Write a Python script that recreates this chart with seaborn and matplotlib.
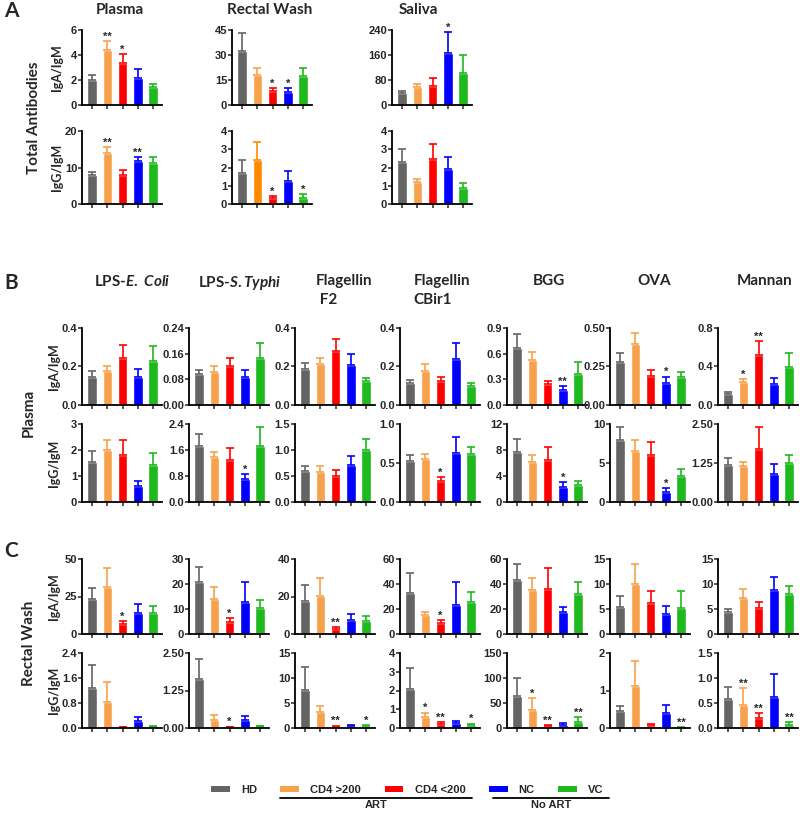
# Antibody ratio bar panels (A: total antibodies, B: plasma antigen-specific, C: rectal wash antigen-specific).

import seaborn as sns
import pandas as pd
import numpy as np
import matplotlib.pyplot as plt
from matplotlib.patches import Patch
from matplotlib.lines import Line2D

sns.set_theme(style="ticks")
plt.rcParams['font.family'] = ['Liberation Sans', 'DejaVu Sans']
plt.rcParams['font.weight'] = 'bold'
plt.rcParams['mathtext.fontset'] = 'custom'
plt.rcParams['mathtext.rm'] = 'Lato:bold'
plt.rcParams['mathtext.it'] = 'Lato:bold:italic'
plt.rcParams['mathtext.bf'] = 'Lato:bold'

# Groups and their colours.
groups = ["HD", "CD4 >200", "CD4 <200", "NC", "VC"]
colors = ["#646464", "#F8A14C", "#FF0000", "#0000FF", "#1DB91D"]

# Panel A - total antibodies, one entry per sample type.
a_sources = ["Plasma", "Rectal Wash", "Saliva"]
a_iga_mean = [[2.0, 4.4, 3.4, 2.2, 1.45], [32.5, 18.0, 8.2, 7.8, 17.5], [38, 57, 60, 168, 103]]
a_iga_sem = [[0.4, 0.7, 0.65, 0.7, 0.2], [10.5, 4.5, 1.8, 2.2, 4.5], [7, 11, 28, 65, 57]]
a_iga_stars = [["", "**", "*", "", ""], ["", "", "*", "*", ""], ["", "", "", "*", ""]]
a_iga_ymax = [6, 45, 240]
a_iga_step = [2, 15, 80]
a_igg_mean = [[8.0, 14.0, 8.0, 11.9, 11.1], [1.72, 2.42, 0.35, 1.25, 0.35], [2.3, 1.2, 2.48, 1.93, 0.88]]
a_igg_sem = [[0.7, 1.5, 1.2, 1.0, 1.9], [0.7, 1.0, 0.1, 0.55, 0.2], [0.7, 0.18, 0.82, 0.62, 0.27]]
a_igg_stars = [["", "**", "", "**", ""], ["", "", "*", "", "*"], ["", "", "", "", ""]]
a_igg_ymax = [20, 4, 4]
a_igg_step = [10, 1, 1]

# Panels B and C - antigen specific antibodies.
antigens = ["LPS-$\\mathit{E.\\ Coli}$", "LPS-$\\mathit{S.Typhi}$", "Flagellin\n F2", "Flagellin\nCBir1",
            "BGG", "OVA", "Mannan"]

b_iga_mean = [[0.145, 0.175, 0.245, 0.145, 0.228], [0.097, 0.103, 0.123, 0.087, 0.147],
              [0.185, 0.212, 0.28, 0.21, 0.125], [0.113, 0.178, 0.125, 0.238, 0.1],
              [0.67, 0.53, 0.25, 0.175, 0.36], [0.28, 0.395, 0.19, 0.145, 0.18],
              [0.11, 0.235, 0.515, 0.22, 0.395]]
b_iga_sem = [[0.03, 0.03, 0.065, 0.04, 0.077], [0.013, 0.017, 0.024, 0.021, 0.045],
             [0.033, 0.031, 0.065, 0.055, 0.015], [0.019, 0.035, 0.022, 0.084, 0.013],
             [0.16, 0.085, 0.035, 0.05, 0.14], [0.055, 0.07, 0.035, 0.04, 0.035],
             [0.02, 0.03, 0.15, 0.06, 0.15]]
b_iga_stars = [["", "", "", "", ""], ["", "", "", "", ""], ["", "", "", "", ""], ["", "", "", "", ""],
               ["", "", "", "**", ""], ["", "", "", "*", ""], ["", "*", "**", "", ""]]
b_iga_ymax = [0.4, 0.24, 0.4, 0.4, 0.9, 0.5, 0.8]
b_iga_step = [0.2, 0.08, 0.2, 0.2, 0.3, 0.25, 0.4]

b_igg_mean = [[1.55, 2.0, 1.8, 0.62, 1.42], [1.72, 1.38, 1.3, 0.7, 1.72], [0.6, 0.58, 0.5, 0.72, 1.0],
              [0.52, 0.55, 0.27, 0.63, 0.62], [7.7, 6.2, 6.4, 2.3, 2.6], [8.0, 6.6, 6.0, 1.3, 3.3],
              [1.2, 1.15, 1.7, 0.9, 1.25]]
b_igg_sem = [[0.4, 0.4, 0.6, 0.18, 0.48], [0.38, 0.17, 0.35, 0.15, 0.58], [0.1, 0.12, 0.12, 0.16, 0.22],
             [0.08, 0.07, 0.05, 0.2, 0.08], [2.0, 1.1, 2.1, 0.8, 0.6], [1.6, 1.3, 1.7, 0.5, 0.9],
             [0.2, 0.12, 0.7, 0.32, 0.25]]
b_igg_stars = [["", "", "", "", ""], ["", "", "", "*", ""], ["", "", "", "", ""], ["", "", "*", "", ""],
               ["", "", "", "*", ""], ["", "", "", "*", ""], ["", "", "", "", ""]]
b_igg_ymax = [3, 2.4, 1.5, 1.0, 12, 10, 2.5]
b_igg_step = [1, 0.8, 0.5, 0.5, 4, 5, 1.25]

c_iga_mean = [[23.5, 31.5, 6.5, 14, 14], [21, 14.2, 4.8, 12.7, 10.5], [17.7, 20.5, 2.8, 7.5, 7.0],
              [32.7, 15, 8.8, 23, 25.5], [43.5, 35.5, 36, 17.5, 32], [5.5, 10, 6.2, 4.1, 5.2],
              [4.5, 7.2, 5.2, 8.9, 8.0]]
c_iga_sem = [[7, 12.5, 2, 6, 5], [6, 4.8, 1.5, 8, 3.2], [8.3, 9.5, 1.0, 3.2, 2.5], [16.3, 3, 2.2, 19, 8.5],
             [12.5, 9, 17, 4.5, 9.5], [2.1, 4, 2.4, 1.6, 3.4], [0.6, 1.9, 1.3, 2.6, 1.7]]
c_iga_stars = [["", "", "*", "", ""], ["", "", "*", "", ""], ["", "", "**", "", ""], ["", "", "*", "", ""],
               ["", "", "", "", ""], ["", "", "", "", ""], ["", "", "", "", ""]]
c_iga_ymax = [50, 30, 40, 60, 60, 15, 15]
c_iga_step = [25, 10, 20, 20, 20, 5, 5]

c_igg_mean = [[1.28, 0.83, 0.03, 0.24, 0.04], [1.65, 0.27, 0.03, 0.27, 0.06], [7.7, 3.2, 0.3, 0.5, 0.3],
              [2.08, 0.6, 0.2, 0.28, 0.15], [65, 37, 4, 7, 12], [0.45, 1.12, 0.08, 0.4, 0.01],
              [0.58, 0.47, 0.2, 0.63, 0.07]]
c_igg_sem = [[0.75, 0.65, 0.01, 0.1, 0.02], [0.65, 0.15, 0.02, 0.13, 0.02], [4.5, 1.2, 0.2, 0.2, 0.3],
             [1.12, 0.22, 0.12, 0.1, 0.08], [35, 23, 2, 3, 10], [0.13, 0.68, 0.02, 0.22, 0.005],
             [0.24, 0.33, 0.1, 0.45, 0.05]]
c_igg_stars = [["", "", "", "", ""], ["", "", "*", "", ""], ["", "", "**", "", "*"], ["", "*", "**", "", "*"],
               ["", "*", "**", "", "**"], ["", "", "", "", "**"], ["", "**", "**", "", "**"]]
c_igg_ymax = [2.4, 2.5, 15, 4, 150, 2, 1.5]
c_igg_step = [0.8, 1.25, 5, 1, 50, 1, 0.5]

# Tick label formats per panel.
a_iga_fmt = ["%d", "%d", "%d"]
a_igg_fmt = ["%d", "%d", "%d"]
b_iga_fmt = ["%.1f", "%.2f", "%.1f", "%.1f", "%.1f", "%.2f", "%.1f"]
b_igg_fmt = ["%d", "%.1f", "%.1f", "%.1f", "%d", "%d", "%.2f"]
c_iga_fmt = ["%d"] * 7
c_igg_fmt = ["%.1f", "%.2f", "%d", "%d", "%d", "%d", "%.1f"]

W, H = 800, 814
fig = plt.figure(figsize=(W / 100, H / 100), dpi=100)
fig.patch.set_facecolor("white")

title_font = dict(family=["Lato", "DejaVu Sans"], weight="bold")


def add_ax(x, top, bottom, w=80):
    return fig.add_axes([x / W, 1 - bottom / H, w / W, (bottom - top) / H])


def draw_panel(ax, means, sems, stars, ymax, step, fmt, palette=colors, ylabel=None, label_x=-0.24):
    df = pd.DataFrame({"group": groups, "ratio": means, "sem": sems})
    sns.barplot(data=df, x="group", y="ratio", hue="group", order=groups, hue_order=groups,
                palette=palette, saturation=1, width=0.64, errorbar=None, legend=False, ax=ax)
    for i, (m, s) in enumerate(zip(means, sems)):
        ax.errorbar(i, m, yerr=[[0], [s]], fmt="none", ecolor=palette[i], elinewidth=1.2,
                    capsize=3, capthick=1.2, clip_on=False)
        if stars[i]:
            ax.annotate(stars[i], (i, m + s), xytext=(0, 1.0), textcoords="offset points",
                        ha="center", va="baseline", fontsize=8, fontweight="bold",
                        annotation_clip=False)
    n = int(round(ymax / step))
    ax.set_ylim(0, ymax)
    ax.set_yticks(np.linspace(0, ymax, n + 1))
    ax.set_yticklabels([fmt % t for t in np.linspace(0, ymax, n + 1)])
    ax.set_xlim(-0.68, 4.6)
    ax.set_xticks(range(5))
    ax.set_xticklabels([])
    ax.set_xlabel("")
    ax.set_ylabel("")
    if ylabel:
        ax.set_ylabel(ylabel, fontsize=9, **title_font)
        ax.yaxis.set_label_coords(label_x, 0.5)
    ax.tick_params(axis="y", length=3, width=1.1, pad=0.5, labelsize=8)
    ax.tick_params(axis="x", length=3, width=1.1)
    sns.despine(ax=ax)
    for sp in ["left", "bottom"]:
        ax.spines[sp].set_linewidth(1.3)
        ax.spines[sp].set_color("black")


# Panel A
a_cols = [82, 232, 392]
a_title_x = [120, 270, 418]
for j in range(3):
    ax1 = add_ax(a_cols[j], 30, 105)
    ax2 = add_ax(a_cols[j], 131, 204)
    draw_panel(ax1, a_iga_mean[j], a_iga_sem[j], a_iga_stars[j], a_iga_ymax[j], a_iga_step[j],
               a_iga_fmt[j], ylabel="IgA/IgM" if j == 0 else None)
    pal = colors if j != 1 else [colors[0], "#FF8A00"] + colors[2:]
    draw_panel(ax2, a_igg_mean[j], a_igg_sem[j], a_igg_stars[j], a_igg_ymax[j], a_igg_step[j],
               a_igg_fmt[j], palette=pal, ylabel="IgG/IgM" if j == 0 else None)
    fig.text(a_title_x[j] / W, 1 - 10.5 / H, a_sources[j], ha="center", va="center", fontsize=11, **title_font)

# Panels B and C
bc_cols = [82, 189, 295, 400, 507, 610, 718]
b_title_x = [132, 240, 344, 442, 549, 654, 765]
for j in range(7):
    lab = j == 0
    ax = add_ax(bc_cols[j], 328, 405)
    draw_panel(ax, b_iga_mean[j], b_iga_sem[j], b_iga_stars[j], b_iga_ymax[j], b_iga_step[j],
               b_iga_fmt[j], ylabel="IgA/IgM" if lab else None, label_x=-0.28)
    ax = add_ax(bc_cols[j], 424, 502)
    draw_panel(ax, b_igg_mean[j], b_igg_sem[j], b_igg_stars[j], b_igg_ymax[j], b_igg_step[j],
               b_igg_fmt[j], ylabel="IgG/IgM" if lab else None, label_x=-0.28)
    ax = add_ax(bc_cols[j], 559, 634)
    draw_panel(ax, c_iga_mean[j], c_iga_sem[j], c_iga_stars[j], c_iga_ymax[j], c_iga_step[j],
               c_iga_fmt[j], ylabel="IgA/IgM" if lab else None, label_x=-0.28)
    ax = add_ax(bc_cols[j], 653, 728)
    draw_panel(ax, c_igg_mean[j], c_igg_sem[j], c_igg_stars[j], c_igg_ymax[j], c_igg_step[j],
               c_igg_fmt[j], ylabel="IgG/IgM" if lab else None, label_x=-0.28)
    fig.text(b_title_x[j] / W, 1 - 274 / H, antigens[j], ha="center", va="top", multialignment="left",
             linespacing=1.45, fontsize=11, **title_font)

# Row labels and panel letters
fig.text(34 / W, 1 - 118 / H, "Total Antibodies", rotation=90, ha="center", va="center", fontsize=11, **title_font)
fig.text(29 / W, 1 - 413 / H, "Plasma", rotation=90, ha="center", va="center", fontsize=11, **title_font)
fig.text(29 / W, 1 - 643 / H, "Rectal Wash", rotation=90, ha="center", va="center", fontsize=11, **title_font)
for letter, y in [("A", 11), ("B", 283), ("C", 551)]:
    fig.text(11 / W, 1 - y / H, letter, ha="center", va="center", fontsize=15, **title_font)

# Legend with the ART / No ART brackets
handles = [Patch(facecolor=c, edgecolor="none") for c in colors]
fig.legend(handles, groups, ncol=5, loc="center left", bbox_to_anchor=(211 / W, 1 - 790 / H),
           frameon=False, borderpad=0, borderaxespad=0, handlelength=1.7, handleheight=0.55,
           handletextpad=1.0, columnspacing=2.1, prop={"weight": "bold", "size": 8})
for x0, x1, label in [(280, 472, "ART"), (493, 609, "No ART")]:
    fig.add_artist(Line2D([x0 / W, x1 / W], [1 - 797.5 / H] * 2, color="black", lw=1.3))
    fig.text((x0 + x1) / 2 / W, 1 - 800 / H, label, ha="center", va="top", fontsize=8, fontweight="bold")

fig.savefig("out.png", dpi=100, facecolor="white")
